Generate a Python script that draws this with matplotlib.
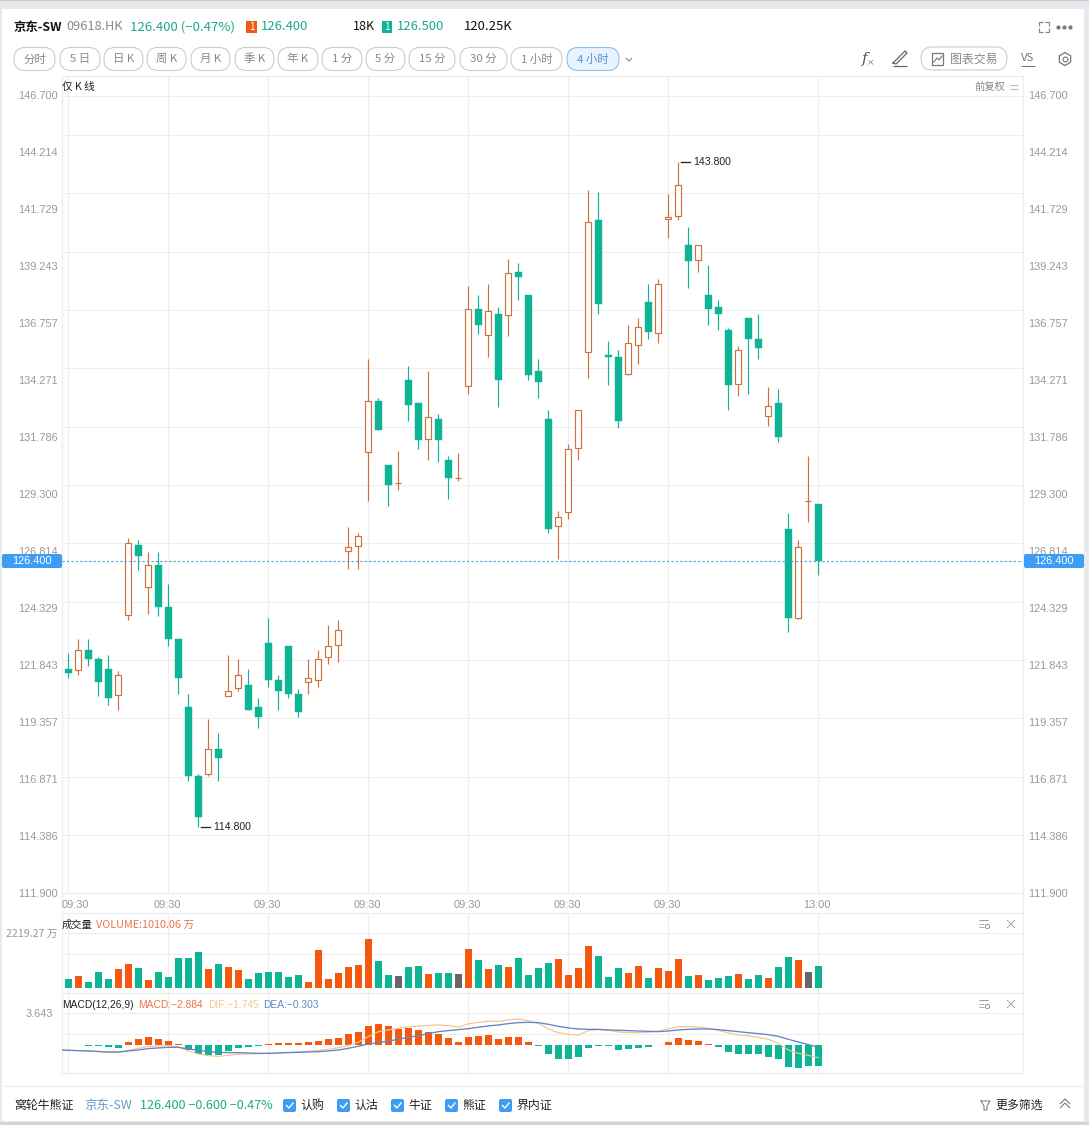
import numpy as np
import matplotlib
matplotlib.use('Agg')
import matplotlib.pyplot as plt
from matplotlib.patches import FancyBboxPatch, Rectangle, Polygon

plt.rcParams['text.kerning_factor'] = 6

W, H = 1089, 1125
UP = '#d0703a'
DOWN = '#0db495'
VOL_UP = '#f4580f'
FLAT = '#666666'
GRID = '#eeeeee'
TEAL = '#1aa88f'
BLUE = '#3d9df5'
CJK = ['Noto Sans CJK SC', 'DejaVu Sans']
LAT = ['Liberation Sans', 'Noto Sans CJK SC']

# candles, one every 4 hours
opens = [121.69, 121.63, 122.51, 122.13, 121.68, 120.54, 124.03, 127.08, 125.25, 126.23,
         124.39, 123.00, 120.03, 117.02, 117.12, 118.20, 120.53, 120.85, 120.98, 120.02,
         122.81, 121.20, 122.68, 120.59, 121.14, 121.22, 122.23, 122.72, 126.82, 127.04,
         131.14, 133.38, 130.59, 129.78, 134.28, 133.28, 131.71, 132.59, 130.80, 130.00,
         134.02, 137.38, 136.24, 137.16, 137.11, 138.99, 138.00, 134.67, 132.58, 127.91,
         128.52, 131.31, 135.50, 141.26, 135.37, 135.28, 134.54, 135.81, 137.68, 136.33,
         141.30, 141.43, 140.17, 139.51, 137.99, 137.46, 136.46, 134.11, 136.98, 136.07,
         132.71, 133.28, 127.78, 123.93, 129.00, 128.89]
closes = [121.53, 122.51, 122.14, 121.14, 120.44, 121.42, 127.17, 126.63, 126.21, 124.41,
          123.01, 121.31, 117.04, 115.25, 118.19, 117.81, 120.72, 121.42, 119.92, 119.61,
          121.22, 120.74, 120.61, 119.83, 121.28, 122.11, 122.68, 123.38, 127.00, 127.48,
          133.36, 132.11, 129.71, 129.78, 133.22, 131.68, 132.67, 131.68, 130.02, 130.00,
          137.38, 136.71, 137.29, 134.31, 138.97, 138.80, 134.52, 134.22, 127.81, 128.31,
          131.27, 132.97, 141.17, 137.62, 135.31, 132.52, 135.89, 136.59, 136.40, 138.47,
          141.39, 142.78, 139.50, 140.17, 137.40, 137.18, 134.09, 135.59, 136.09, 135.70,
          133.17, 131.82, 123.93, 127.00, 129.00, 126.40]
highs = [122.37, 123.00, 123.00, 122.21, 122.29, 121.59, 127.39, 127.32, 126.78, 126.78,
         125.38, 123.00, 120.59, 117.10, 119.50, 118.89, 122.29, 122.11, 121.68, 120.41,
         123.90, 121.42, 122.68, 120.80, 122.11, 122.51, 123.60, 123.81, 127.87, 127.61,
         135.20, 133.50, 130.59, 131.18, 134.89, 133.35, 134.67, 132.80, 130.97, 131.10,
         138.38, 137.99, 138.47, 137.46, 139.56, 139.38, 138.00, 135.20, 132.97, 128.57,
         131.49, 132.97, 142.57, 142.48, 135.98, 135.59, 136.68, 136.98, 138.47, 138.68,
         142.39, 143.80, 140.95, 140.17, 139.30, 137.77, 136.57, 135.76, 136.98, 137.16,
         133.97, 133.89, 128.48, 127.30, 130.98, 128.89]
lows = [121.31, 121.44, 121.83, 120.53, 120.13, 119.92, 123.84, 126.02, 124.10, 124.01,
        122.71, 120.61, 116.82, 114.80, 117.04, 116.82, 120.53, 120.74, 119.92, 119.13,
        120.92, 119.92, 120.44, 119.61, 120.61, 120.92, 121.92, 122.01, 126.04, 126.04,
        129.03, 132.11, 128.81, 129.51, 132.52, 131.30, 130.82, 130.73, 129.12, 129.90,
        133.70, 136.31, 135.31, 133.13, 136.23, 137.80, 134.31, 133.52, 127.63, 126.50,
        128.22, 130.82, 134.39, 137.18, 134.09, 132.21, 134.52, 135.00, 136.09, 135.92,
        140.50, 141.28, 138.32, 139.02, 136.71, 136.49, 133.00, 133.61, 133.70, 135.22,
        132.30, 131.60, 123.32, 123.86, 128.11, 125.80]

# volume, in 万
volumes = [408, 544, 272, 725, 408, 861, 1087, 906, 362, 725, 498, 1359, 1359, 1631, 861, 1087,
           951, 815, 408, 680, 725, 725, 498, 589, 272, 1721, 408, 680, 951, 1042, 2219.27, 1223,
           589, 544, 951, 997, 634, 680, 680, 634, 1767, 1268, 861, 1042, 951, 1359, 589, 906,
           1133, 1314, 589, 906, 1903, 1450, 498, 906, 680, 997, 453, 906, 770, 1314, 544, 589,
           362, 453, 544, 634, 408, 589, 453, 951, 1404, 1268, 725, 1010.06]

# MACD histogram and its two lines (the lines carry one extra value left of the first candle)
macd_hist = [0, 0, -0.09, -0.09, -0.30, -0.35, 0.41, 0.82, 1.10, 0.82, 0.55, 0.14, -0.69, -1.24,
             -1.37, -1.37, -0.82, -0.41, -0.27, -0.09, 0.14, 0.27, 0.27, 0.27, 0.41, 0.55, 0.82,
             0.96, 1.51, 1.79, 2.61, 2.88, 2.61, 2.20, 2.38, 2.06, 1.85, 1.51, 0.96, 0.41, 1.10,
             1.24, 1.37, 0.82, 1.10, 1.10, 0.41, -0.09, -1.24, -1.92, -1.92, -1.65, -0.41, -0.14,
             -0.14, -0.69, -0.55, -0.41, -0.27, 0, 0.41, 0.96, 0.69, 0.55, 0.14, -0.23, -0.96,
             -1.24, -1.24, -1.24, -1.65, -1.92, -3.02, -3.16, -2.88, -2.884]
dea = [-0.69, -0.73, -0.78, -0.82, -0.89, -0.96, -0.96, -0.82, -0.69, -0.50, -0.41, -0.32, -0.32,
       -0.55, -0.73, -0.92, -1.01, -1.05, -1.05, -1.10, -1.15, -1.15, -1.10, -1.05, -1.01, -0.96,
       -0.92, -0.82, -0.69, -0.46, -0.18, 0.14, 0.32, 0.55, 0.78, 1.05, 1.28, 1.56, 1.83, 1.97,
       2.11, 2.24, 2.43, 2.61, 2.75, 2.93, 3.07, 3.11, 3.07, 2.84, 2.56, 2.34, 2.20, 2.15, 2.15,
       2.06, 2.02, 1.97, 1.92, 1.88, 1.83, 1.92, 2.06, 2.15, 2.20, 2.20, 2.11, 1.97, 1.83, 1.69,
       1.56, 1.42, 1.19, 0.78, 0.41, 0.05, -0.303]
dif = [-0.69, -0.73, -0.78, -0.82, -0.92, -1.01, -1.05, -0.73, -0.46, -0.23, -0.14, -0.09, -0.27,
       -0.82, -1.24, -1.47, -1.56, -1.42, -1.28, -1.24, -1.19, -1.15, -1.10, -1.01, -0.96, -0.87,
       -0.73, -0.60, -0.37, -0.09, 0.37, 1.15, 1.83, 2.06, 2.29, 2.47, 2.61, 2.70, 2.75, 2.66,
       2.47, 2.89, 3.11, 3.25, 3.25, 3.44, 3.57, 3.34, 2.98, 2.20, 1.69, 1.47, 1.37, 1.97, 2.11,
       2.02, 1.79, 1.69, 1.69, 1.74, 1.92, 2.20, 2.52, 2.52, 2.47, 2.29, 2.02, 1.65, 1.37, 1.24,
       1.05, 0.78, 0.23, -0.69, -1.15, -1.42, -1.745]

price_ticks = [146.700, 144.214, 141.729, 139.243, 136.757, 134.271, 131.786, 129.300,
               126.814, 124.329, 121.843, 119.357, 116.871, 114.386, 111.900]
time_ticks = [0, 10, 20, 30, 40, 50, 60, 75]
time_labels = ['09:30'] * 7 + ['13:00']
last_price = 126.4
buttons = ['分时', '5 日', '日 K', '周 K', '月 K', '季 K', '年 K', '1 分', '5 分', '15 分', '30 分', '1 小时', '4 小时']
filters = ['认购', '认沽', '牛证', '熊证', '界内证']

fig = plt.figure(figsize=(W / 100, H / 100), dpi=100, facecolor='#e8e8ed')


def px_axes(left, top, right, bottom, zorder):
    a = fig.add_axes([left / W, 1 - bottom / H, (right - left) / W, (bottom - top) / H], zorder=zorder)
    a.patch.set_alpha(0)
    for s in a.spines.values():
        s.set_visible(False)
    return a


# page in pixel coordinates, under and over the chart
page = px_axes(0, 0, W, H, 0)
over = px_axes(0, 0, W, H, 10)
for a in (page, over):
    a.set_xlim(0, W)
    a.set_ylim(H, 0)
    a.axis('off')
page.add_patch(Rectangle((2, 9), 1082, 1112, fc='white', ec='none'))
page.add_patch(Rectangle((0, 0), W, 1.2, fc='#c8c8ce', ec='none'))
page.add_patch(Rectangle((0, 1122), W, 3, fc='#d4d4dc', ec='none'))


def line(a, xs, ys, color=GRID, lw=0.75, **kw):
    a.plot(xs, ys, color=color, lw=lw, solid_capstyle='butt', **kw)


def label(a, x, y, s, color='#222222', size=8.6, family=CJK, ha='left', **kw):
    a.text(x, y, s, color=color, fontsize=size, family=family, ha=ha, va='center', **kw)


# pane grid
for y in [96, 135, 193, 252, 310, 368, 427, 485, 543, 602, 660, 718, 777, 835,
          933, 954, 1013, 1034]:
    line(page, [62, 1023], [y, y])
for y in [76, 893, 913, 993, 1073]:
    line(page, [62, 1023], [y, y], lw=1)
line(page, [62, 62], [76, 1073], lw=1)
line(page, [1023, 1023], [76, 1073], lw=1)
line(page, [2, 1084], [1086, 1086], lw=1)

# shared x mapping: candle i sits at pixel 68.3 + 10 i
xlim = ((62 - 68.3) / 10, (1023 - 68.3) / 10)
x = np.arange(len(opens))
for t in time_ticks:
    for top_px, bot_px in [(76, 893), (913, 993), (993, 1073)]:
        line(page, [68.3 + 10 * t] * 2, [top_px, bot_px], lw=0.9)

# candles
ax = px_axes(62, 76, 1023, 893, 2)
ax.set_xlim(*xlim)
ax.set_ylim(111.92, 147.55)
ups = np.array(closes) >= np.array(opens)
bottoms = np.minimum(opens, closes)
heights = np.abs(np.array(closes) - np.array(opens))
ax.vlines(x, lows, highs, colors=[UP if u else DOWN for u in ups], lw=0.85, zorder=2)
ax.bar(x[ups], heights[ups], 0.6, bottoms[ups], fc='white', ec=UP, lw=0.85, zorder=3)
ax.bar(x[~ups], heights[~ups], 0.66, bottoms[~ups], fc=DOWN, ec=DOWN, lw=0.3, zorder=3)
ax.axhline(last_price, color='#4aa0d0', lw=0.8, ls=(0, (2, 2)), zorder=4)

# price ticks on both sides
ax.set_yticks([])
ax.set_xticks([])
for p in price_ticks:
    ax.annotate(f'{p:.3f}', (1, p), xycoords=('axes fraction', 'data'), xytext=(3.6, -0.7),
                textcoords='offset points', va='center', family=LAT, fontsize=7.9, color='#999999',
                annotation_clip=False)
    ax.annotate(f'{p:.3f}', (0, p), xycoords=('axes fraction', 'data'), xytext=(-3, -0.7),
                textcoords='offset points', va='center', ha='right', family=LAT, fontsize=7.9,
                color='#999999', annotation_clip=False)

# high and low markers
for i, val in [(int(np.argmax(highs)), max(highs)), (int(np.argmin(lows)), min(lows))]:
    ax.plot([i + 0.3, i + 1.2], [val, val], color='#222222', lw=0.9)
    ax.text(i + 1.5, val, f'{val:.3f}', fontsize=7.6, family=LAT, color='#222222', va='center')

# time labels under the main pane
for t, s in zip(time_ticks, time_labels):
    px = 68.3 + 10 * t
    label(page, 62 if t == 0 else px - 1, 904.5, s, '#999999', 7.9, LAT, ha='left' if t == 0 else 'center')

# volume
vax = px_axes(62, 913, 1023, 993, 2)
vax.set_xlim(*xlim)
vax.set_ylim(-226, 3397)
vax.axis('off')
vcol = [FLAT if o == c else (VOL_UP if c > o else DOWN) for o, c in zip(opens, closes)]
vax.bar(x, volumes, 0.7, color=vcol)

# MACD
max_ = px_axes(62, 993, 1023, 1073, 2)
max_.set_xlim(*xlim)
max_.set_ylim(-3.85, 7.14)
max_.axis('off')
hist = np.array(macd_hist)
max_.bar(x, hist, 0.7, color=[VOL_UP if h > 0 else DOWN for h in hist])
line_x = np.arange(len(dif)) - 1
max_.plot(line_x, dif, color='#f5c38a', lw=0.85, zorder=3)
max_.plot(line_x, dea, color='#5f86c8', lw=0.95, zorder=3)

# pane captions
label(page, 62, 87, '仅 K 线', size=7.6)
label(page, 974, 87, '前复权', '#888888', 7.4)
line(page, [1010, 1018], [85, 85], '#aaaaaa', 0.6)
line(page, [1010, 1018], [89, 89], '#aaaaaa', 0.6)
label(page, 62, 924.5, '成交量', size=7.4)
label(page, 96, 924.5, 'VOLUME:1010.06 万', '#f0734a', 7.8)
label(page, 57, 934, '2219.27 万', '#999999', 7.7, ha='right')
label(page, 62, 1004.5, 'MACD(12,26,9)', size=7.4, family=LAT)
label(page, 138, 1004.5, 'MACD:−2.884', '#f0734a', 7.4, LAT)
label(page, 208, 1004.5, 'DIF:−1.745', '#f7c58a', 7.4, LAT)
label(page, 263, 1004.5, 'DEA:−0.303', '#5b8ac9', 7.4, LAT)
label(page, 53, 1014, '3.643', '#999999', 7.9, LAT, ha='right')
for y in (924, 1004):
    line(page, [979, 988], [y - 4, y - 4], '#999999', 0.7)
    line(page, [979, 984], [y, y], '#aaaaaa', 0.7)
    line(page, [979, 984], [y + 3, y + 3], '#aaaaaa', 0.7)
    page.plot([987], [y + 2], 'o', ms=3, mfc='white', mec='#888888', mew=0.6)
    line(page, [1007, 1015], [y - 4, y + 4], '#999999', 0.6)
    line(page, [1007, 1015], [y + 4, y - 4], '#999999', 0.6)

# last price tags
for left in (2, 1024):
    over.add_patch(FancyBboxPatch((left + 1, 555), 58, 12, boxstyle='round,pad=1,rounding_size=2',
                                  fc=BLUE, ec='none'))
    label(over, left + 30, 561, '126.400', 'white', 7.9, LAT, ha='center')

# header
label(page, 14, 27, '京东-SW', '#111111', 8.9, weight='bold')
label(page, 66, 27, '09618.HK', '#888888', 9.2)
label(page, 130, 27, '126.400 (−0.47%)', TEAL, 9.5)
page.add_patch(Rectangle((246, 21), 11, 12, fc='#ee5a14', ec='none'))
label(page, 251.5, 27, '1', 'white', 7, ha='center')
label(page, 261, 27, '126.400', TEAL, 9.4)
label(page, 353, 27, '18K', '#111111', 9)
page.add_patch(Rectangle((382, 21), 10, 12, fc=DOWN, ec='none'))
label(page, 387, 27, '1', 'white', 7, ha='center')
label(page, 397, 27, '126.500', TEAL, 9.4)
label(page, 464, 27, '120.25K', '#111111', 9.4)

# period buttons
spans = [(14, 55), (60, 100), (104, 143), (147, 186), (191, 230), (235, 274), (278, 318),
         (322, 362), (366, 405), (409, 455), (460, 507), (511, 562), (567, 619)]
for (a0, a1), s in zip(spans, buttons):
    active = s == '4 小时'
    page.add_patch(FancyBboxPatch((a0 + 11, 47.5 + 11), a1 - a0 - 22, 1, boxstyle='round,pad=11,rounding_size=11',
                                  fc='#e8f3fd' if active else 'white', ec='#8cc0ee' if active else '#cccccc', lw=0.8))
    label(page, (a0 + a1) / 2, 59, s, '#4d90d8' if active else '#888888', 8.2, ha='center')
line(page, [626, 629, 632], [58, 61, 58], '#888888', 0.8)

# tool icons on the right
label(page, 865, 59, 'f', '#555555', 11, family=['DejaVu Serif'], ha='center', style='italic')
label(page, 870, 62, '×', '#555555', 5.5, ha='center')
page.plot([893, 905, 907, 896, 893], [63, 51, 53, 64, 63], color='#666666', lw=0.9)
line(page, [893, 907], [66, 66], '#666666', 0.9)
page.add_patch(FancyBboxPatch((932, 58), 64, 1, boxstyle='round,pad=11,rounding_size=11', fc='white', ec='#cccccc', lw=0.8))
page.add_patch(Rectangle((932, 53), 11, 12, fc='none', ec='#777777', lw=0.9))
page.plot([934, 937, 939, 942], [62, 58, 60, 56], color='#777777', lw=0.8)
label(page, 950, 59, '图表交易', '#888888', 8.6)
label(page, 1028, 58, 'VS', '#777777', 8.2, ha='center')
line(page, [1021, 1035], [65.5, 65.5], '#777777', 0.8)
ang = np.deg2rad(np.arange(30, 390, 60))
page.add_patch(Polygon(np.c_[1065 + 6.5 * np.cos(ang), 59 + 6.5 * np.sin(ang)], fc='none', ec='#777777', lw=0.9))
page.plot([1065], [59], 'o', ms=3.5, mfc='white', mec='#777777', mew=0.8)
for cx, cy, dx, dy in [(1039, 22, 1, 1), (1049, 22, -1, 1), (1039, 32, 1, -1), (1049, 32, -1, -1)]:
    line(page, [cx + 4 * dx, cx, cx], [cy, cy, cy + 4 * dy], '#888888', 0.9)
page.plot([1058, 1064, 1070], [27, 27, 27], 'o', ms=2, color='#777777')

# footer
label(page, 14, 1105.5, '窝轮牛熊证', '#222222', 8.6)
label(page, 84, 1105.5, '京东-SW', '#6a97d0', 9)
label(page, 140, 1105.5, '126.400 −0.600 −0.47%', TEAL, 9.1)
for bx, s in zip([283, 337, 391, 445, 499], filters):
    page.add_patch(FancyBboxPatch((bx + 1, 1100), 11, 11, boxstyle='round,pad=1,rounding_size=2', fc=BLUE, ec='none'))
    page.plot([bx + 3.5, bx + 6, bx + 10], [1105.5, 1108, 1103], color='white', lw=1)
    label(page, bx + 17, 1105.5, s, '#222222', 8.6)
page.plot([981, 990, 987, 987, 984, 984, 981], [1101, 1101, 1106, 1110, 1110, 1106, 1101], color='#777777', lw=0.7)
label(page, 995, 1105.5, '更多筛选', '#222222', 8.6)
for y in (1104, 1108):
    line(page, [1060, 1065, 1070], [y, y - 5, y], '#777777', 0.8)

fig.savefig('out.png', dpi=100, facecolor=fig.get_facecolor())
